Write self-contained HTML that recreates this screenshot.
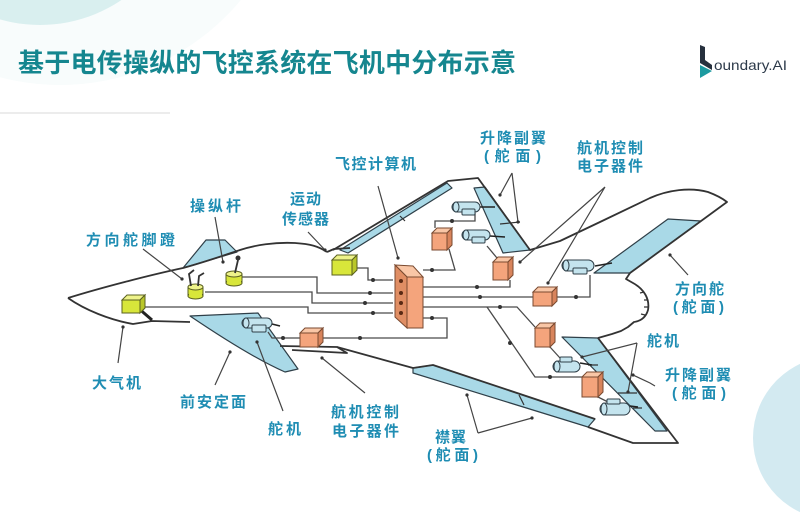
<!DOCTYPE html>
<html><head><meta charset="utf-8"><style>
html,body{margin:0;padding:0;background:#fff;}
svg{display:block;}
.lb{font-family:"Liberation Sans","Noto Sans CJK SC",sans-serif;font-weight:bold;font-size:15px;fill:#1f8db3;}
.ol{fill:none;stroke:#333;stroke-width:1.8;stroke-linejoin:round;}
.w{fill:none;stroke:#4a4a4a;stroke-width:1.3;}
.p{fill:none;stroke:#444;stroke-width:1.2;}
.bl{fill:#a9d9e7;stroke:#2f3f48;stroke-width:1.2;stroke-linejoin:round;}
.cy{fill:#c4e4ee;stroke:#2f3f48;stroke-width:1;}
.oT{fill:#f9c6a6;stroke:#7a4a30;stroke-width:1;}
.oF{fill:#f4a47c;stroke:#7a4a30;stroke-width:1;}
.oS{fill:#d8845c;stroke:#7a4a30;stroke-width:1;}
.yT{fill:#eef38a;stroke:#5a6020;stroke-width:1;}
.yF{fill:#d8e63a;stroke:#5a6020;stroke-width:1;}
.yS{fill:#b9c72a;stroke:#5a6020;stroke-width:1;}
</style></head><body>
<svg width="800" height="518" viewBox="0 0 800 518" xmlns="http://www.w3.org/2000/svg">
<!-- decorations -->
<circle cx="60" cy="-150" r="235" fill="#f8fcfc"/>
<circle cx="40" cy="-120" r="145" fill="#d9efef"/>
<line x1="0" y1="113" x2="170" y2="113" stroke="#ececec" stroke-width="2"/>
<circle cx="835" cy="438" r="82" fill="#d3eaf1"/>

<!-- title -->
<text x="18" y="72" textLength="498" lengthAdjust="spacing" style="font-family:'Liberation Sans','Noto Sans CJK SC',sans-serif;font-weight:bold;font-size:26px;fill:#15868f;">基于电传操纵的飞控系统在飞机中分布示意</text>

<!-- logo -->
<polygon points="700,45 705,47 705,60 712,65 712,70 700,63" fill="#26303d"/>
<polygon points="700,65 712,71 700,78" fill="#1c9aa0"/>
<text x="714" y="70" textLength="73" lengthAdjust="spacingAndGlyphs" style="font-family:'Liberation Sans',sans-serif;font-size:14px;fill:#2d3a4a;">oundary.AI</text>

<!-- blue surfaces -->
<polygon class="bl" points="183,268 206,240 225,240 237,252"/>
<path class="bl" d="M190,316 L258,313 L298,369 L285,372 C262,362 230,343 190,316 Z"/>
<polygon class="bl" points="340,250 447,183 452,188 348,253"/>
<polygon class="bl" points="474,188 485,187 530,250 503,253"/>
<polygon class="bl" points="668,219 701,221 630,273 594,273"/>
<polygon class="bl" points="413,368 433,365 595,419 588,427 413,373"/>
<polygon class="bl" points="562,337 598,338 667,431 655,431"/>

<!-- airframe outline -->
<path class="ol" d="M68,298 C100,288 150,275 183,268 C205,262 225,255 240,250 C255,245 275,242 295,243 C310,244 318,246 327,252"/>
<path class="ol" d="M327,252 L334,249 L350,248"/>
<path class="ol" d="M333,250 L448,181 L478,178 L530,250 L560,241 L600,222 L650,198 C668,190 690,187 708,192 C716,195 722,198 727,202 L630,273"/>
<path class="ol" d="M630,273 L626,279 L633,283 C644,289 650,299 648,310 C646,317 641,321 634,322 L628,327 L621,331 L612,334 L598,338"/>
<path class="ol" d="M644,292 L640,293 M648,300 L644,300 M648,307 L644,307 M645,315 L641,314" style="stroke-width:1.2"/>
<path class="ol" d="M598,338 L678,443 L633,443 L588,427"/>
<path class="ol" d="M337,347 L413,368 L433,365 L595,419"/>
<path class="ol" d="M280,346 L337,347 L347,353 L292,350"/>
<path class="ol" d="M68,298 C85,310 110,320 133,324 L152,321 L190,322"/>
<line x1="137" y1="307" x2="152" y2="320" stroke="#222" stroke-width="3"/>
<!-- surface detail lines -->
<path class="ol" style="stroke-width:1.2" d="M400,216 L405,221 M519,395 L524,405 M500,224 L520,222 M588,365 L598,365 M618,393 L637,393 M633,408 L642,408"/>

<!-- wires -->
<path class="w" d="M242,277 L317,277 L317,293 L393,293"/>
<path class="w" d="M205,292 L312,292 L312,303 L393,303"/>
<path class="w" d="M145,307 L308,307 L308,313 L393,313"/>
<path class="w" d="M357,268 L368,268 L368,280 L393,280"/>
<path class="w" d="M423,270 L455,270 L449,249"/>
<path class="w" d="M423,287 L510,287 L510,280"/>
<path class="w" d="M423,297 L533,297"/>
<path class="w" d="M557,297 L590,297 L590,275"/>
<path class="w" d="M423,307 L517,307 L535,327"/>
<path class="w" d="M487,307 L535,377 L582,377"/>
<path class="w" d="M423,318 L447,318 L447,338 L323,338"/>
<path class="w" d="M300,338 L272,338 L268,332"/>
<path class="w" d="M435,228 L435,221 L475,221 L475,213"/>
<path class="w" d="M497,258 L487,246"/>
<path class="w" d="M550,347 L560,358"/>
<path class="w" d="M598,397 L608,402"/>
<path class="w" d="M480,207 L495,207 M490,236 L505,237 M595,266 L612,263 M272,324 L280,326 M580,363 L592,365 M630,406 L638,407" style="stroke:#222;stroke-width:1.6"/>
<g fill="#333">
<circle cx="373" cy="280" r="2"/><circle cx="370" cy="293" r="2"/><circle cx="365" cy="303" r="2"/><circle cx="373" cy="313" r="2"/>
<circle cx="432" cy="270" r="2"/><circle cx="477" cy="287" r="2"/><circle cx="480" cy="297" r="2"/><circle cx="576" cy="297" r="2"/>
<circle cx="432" cy="318" r="2"/><circle cx="360" cy="338" r="2"/><circle cx="283" cy="338" r="2"/><circle cx="452" cy="221" r="2"/>
<circle cx="510" cy="343" r="2"/><circle cx="550" cy="377" r="2"/><circle cx="500" cy="307" r="2"/>
</g>

<!-- actuators -->
<g>
<rect class="cy" x="452" y="202" width="28" height="10" rx="5"/><ellipse class="cy" cx="456" cy="207" rx="3" ry="5"/><rect class="cy" x="462" y="209" width="13" height="6" rx="1"/>
<rect class="cy" x="462" y="230" width="28" height="10" rx="5"/><ellipse class="cy" cx="466" cy="235" rx="3" ry="5"/><rect class="cy" x="472" y="237" width="13" height="6" rx="1"/>
<rect class="cy" x="562" y="260" width="32" height="11" rx="5.5"/><ellipse class="cy" cx="566" cy="265.5" rx="3" ry="5.5"/><rect class="cy" x="573" y="268" width="14" height="6" rx="1"/>
<rect class="cy" x="242" y="318" width="30" height="10" rx="5"/><ellipse class="cy" cx="246" cy="323" rx="3" ry="5"/><rect class="cy" x="252" y="325" width="14" height="7" rx="1"/>
<rect class="cy" x="553" y="361" width="27" height="11" rx="5.5"/><ellipse class="cy" cx="557" cy="366.5" rx="3" ry="5.5"/><rect class="cy" x="560" y="357" width="12" height="5" rx="1"/>
<rect class="cy" x="600" y="403" width="30" height="12" rx="6"/><ellipse class="cy" cx="604" cy="409" rx="3" ry="6"/><rect class="cy" x="607" y="399" width="13" height="5" rx="1"/>
</g>

<!-- orange boxes -->
<g>
<polygon class="oT" points="432,233 437,228 452,228 447,233"/><rect class="oF" x="432" y="233" width="15" height="17"/><polygon class="oS" points="447,233 452,228 452,245 447,250"/>
<polygon class="oT" points="493,262 498,257 513,257 508,262"/><rect class="oF" x="493" y="262" width="15" height="18"/><polygon class="oS" points="508,262 513,257 513,275 508,280"/>
<polygon class="oT" points="533,292 538,287 557,287 552,292"/><rect class="oF" x="533" y="292" width="19" height="14"/><polygon class="oS" points="552,292 557,287 557,301 552,306"/>
<polygon class="oT" points="535,328 540,323 555,323 550,328"/><rect class="oF" x="535" y="328" width="15" height="19"/><polygon class="oS" points="550,328 555,323 555,342 550,347"/>
<polygon class="oT" points="300,333 305,328 323,328 318,333"/><rect class="oF" x="300" y="333" width="18" height="14"/><polygon class="oS" points="318,333 323,328 323,342 318,347"/>
<polygon class="oT" points="582,377 587,372 603,372 598,377"/><rect class="oF" x="582" y="377" width="16" height="20"/><polygon class="oS" points="598,377 603,372 603,392 598,397"/>
</g>
<!-- flight computer -->
<polygon class="oT" points="395,265 413,266 423,277 407,277"/>
<polygon class="oS" points="395,265 407,277 407,328 395,317" style="fill:#e08e64"/>
<rect class="oF" x="407" y="277" width="16" height="51"/>
<g fill="#5a2a14"><circle cx="401" cy="281" r="2"/><circle cx="401" cy="293" r="2"/><circle cx="401" cy="303" r="2"/><circle cx="401" cy="313" r="2"/></g>

<!-- yellow boxes -->
<polygon class="yT" points="122,300 127,295 145,295 140,300"/><rect class="yF" x="122" y="300" width="18" height="13"/><polygon class="yS" points="140,300 145,295 145,308 140,313"/>
<polygon class="yT" points="332,260 337,255 357,255 352,260"/><rect class="yF" x="332" y="260" width="20" height="15"/><polygon class="yS" points="352,260 357,255 357,270 352,275"/>
<!-- pedals -->
<rect class="yF" x="188" y="287" width="15" height="9"/><ellipse class="yF" cx="195.5" cy="296" rx="7.5" ry="3"/><rect x="189" y="288" width="13" height="7" fill="#d8e63a"/><ellipse class="yT" cx="195.5" cy="287" rx="7.5" ry="3"/>
<path d="M191,286 L189,274 L194,270 M198,286 L199,276 L204,273" fill="none" stroke="#333" stroke-width="1.8"/>
<!-- stick -->
<rect class="yF" x="226" y="274" width="16" height="9"/><ellipse class="yF" cx="234" cy="283" rx="8" ry="3"/><rect x="227" y="275" width="14" height="7" fill="#d8e63a"/><ellipse class="yT" cx="234" cy="274" rx="8" ry="3"/>
<path d="M235,273 L238,260" stroke="#333" stroke-width="1.8"/><circle cx="238" cy="258" r="2.5" fill="#333"/>

<!-- pointer lines -->
<path class="p" d="M143,249 L182,279 M215,217 L223,262 M308,232 L325,250 M378,186 L398,258 M512,173 L500,195 M512,173 L518,222 M605,187 L520,262 M605,187 L548,283 M688,275 L670,255 M637,343 L582,357 M637,343 L628,392 M655,386 L650,383 L633,375 M118,363 L123,327 M215,385 L230,352 M283,411 L257,342 M365,393 L322,358 M478,433 L467,395 M478,433 L532,418"/>
<g fill="#333"><circle cx="182" cy="279" r="1.6"/><circle cx="223" cy="262" r="1.6"/><circle cx="325" cy="250" r="1.6"/><circle cx="398" cy="258" r="1.6"/><circle cx="500" cy="195" r="1.6"/><circle cx="518" cy="222" r="1.6"/><circle cx="520" cy="262" r="1.6"/><circle cx="548" cy="283" r="1.6"/><circle cx="670" cy="255" r="1.6"/><circle cx="582" cy="357" r="1.6"/><circle cx="628" cy="392" r="1.6"/><circle cx="633" cy="375" r="1.6"/><circle cx="123" cy="327" r="1.6"/><circle cx="230" cy="352" r="1.6"/><circle cx="257" cy="342" r="1.6"/><circle cx="322" cy="358" r="1.6"/><circle cx="467" cy="395" r="1.6"/><circle cx="532" cy="418" r="1.6"/></g>

<!-- labels -->
<text class="lb" x="86" y="245" textLength="89" lengthAdjust="spacing">方向舵脚蹬</text>
<text class="lb" x="190" y="211" textLength="51" lengthAdjust="spacing">操纵杆</text>
<text class="lb" x="290" y="204" textLength="31" lengthAdjust="spacing">运动</text>
<text class="lb" x="282" y="224" textLength="47" lengthAdjust="spacing">传感器</text>
<text class="lb" x="335" y="169" textLength="81" lengthAdjust="spacing">飞控计算机</text>
<text class="lb" x="480" y="143" textLength="66" lengthAdjust="spacing">升降副翼</text>
<text class="lb" x="484" y="161" textLength="57" lengthAdjust="spacing">(舵面)</text>
<text class="lb" x="577" y="153" textLength="66" lengthAdjust="spacing">航机控制</text>
<text class="lb" x="577" y="171" textLength="66" lengthAdjust="spacing">电子器件</text>
<text class="lb" x="675" y="294" textLength="49" lengthAdjust="spacing">方向舵</text>
<text class="lb" x="673" y="312" textLength="51" lengthAdjust="spacing">(舵面)</text>
<text class="lb" x="647" y="346" textLength="32" lengthAdjust="spacing">舵机</text>
<text class="lb" x="665" y="380" textLength="66" lengthAdjust="spacing">升降副翼</text>
<text class="lb" x="672" y="398" textLength="54" lengthAdjust="spacing">(舵面)</text>
<text class="lb" x="92" y="388" textLength="49" lengthAdjust="spacing">大气机</text>
<text class="lb" x="180" y="407" textLength="66" lengthAdjust="spacing">前安定面</text>
<text class="lb" x="268" y="434" textLength="33" lengthAdjust="spacing">舵机</text>
<text class="lb" x="331" y="417" textLength="68" lengthAdjust="spacing">航机控制</text>
<text class="lb" x="332" y="436" textLength="67" lengthAdjust="spacing">电子器件</text>
<text class="lb" x="435" y="442" textLength="31" lengthAdjust="spacing">襟翼</text>
<text class="lb" x="427" y="460" textLength="51" lengthAdjust="spacing">(舵面)</text>
</svg>
</body></html>
